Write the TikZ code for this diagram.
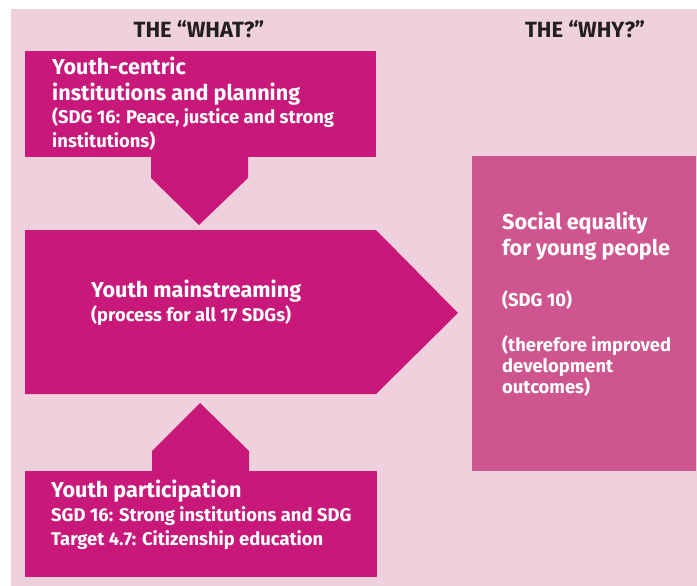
\documentclass[tikz,border=0pt]{standalone}
\usepackage{fontspec}
\setmainfont{Fira Sans}
\definecolor{bgpink}{HTML}{EFD1DE}
\definecolor{magenta1}{HTML}{C8187A}
\definecolor{rose1}{HTML}{CE558E}
\definecolor{titlegray}{HTML}{231F20}
\begin{document}
\begin{tikzpicture}[x=1pt,y=-1pt,
  blockbox/.style={fill=magenta1, draw=none},
  whybox/.style={fill=rose1, draw=none},
  headtxt/.style={anchor=base, text=titlegray, font=\bfseries\fontsize{22}{24}\selectfont, inner sep=0pt},
  bigtxt/.style={anchor=base west, text=white, font=\bfseries\fontsize{21.6}{24}\selectfont, inner sep=0pt},
  smalltxt/.style={anchor=base west, text=white, font=\bfseries\fontsize{18.4}{21}\selectfont, inner sep=0pt}]
\useasboundingbox (0,0) rectangle (697,586);
\fill[bgpink] (11,9) rectangle (697,586);
% titles
\node[headtxt] (what) at (199,38) {THE “WHAT?”};
\node[headtxt] (why) at (585,38) {THE “WHY?”};
% top box
\fill[blockbox] (25,51) rectangle (376,157);
\fill[blockbox] (151,156) -- (248,156) -- (248,178) -- (199,225) -- (151,178) -- cycle;
\node[bigtxt] (t1) at (52,75) {Youth-centric};
\node[bigtxt] (t2) at (52,100) {institutions and planning};
\node[smalltxt] (t3) at (52,124) {(SDG 16: Peace, justice and strong};
\node[smalltxt] (t4) at (52,147) {institutions)};
% middle pentagon
\fill[blockbox] (25,230) -- (376,230) -- (458,313) -- (376,394) -- (25,394) -- cycle;
\node[bigtxt] (m1) at (91,297) {Youth mainstreaming};
\node[smalltxt] (m2) at (91,321) {(process for all 17 SDGs)};
% bottom box
\fill[blockbox] (152,472) -- (152,451) -- (200,403) -- (249,451) -- (249,472) -- cycle;
\fill[blockbox] (25,471) rectangle (377,577);
\node[bigtxt] (b1) at (51,497) {Youth participation};
\node[smalltxt] (b2) at (51,521) {SGD 16: Strong institutions and SDG};
\node[smalltxt] (b3) at (51,545) {Target 4.7: Citizenship education};
% right box
\fill[whybox] (472,156) rectangle (696,471);
\node[bigtxt] (r1) at (502,229) {Social equality};
\node[bigtxt] (r2) at (502,255) {for young people};
\node[smalltxt] (r3) at (502,306) {(SDG 10)};
\node[smalltxt] (r4) at (502,351) {(therefore improved};
\node[smalltxt] (r5) at (502,372) {development};
\node[smalltxt] (r6) at (502,393) {outcomes)};
\end{tikzpicture}
\end{document}
